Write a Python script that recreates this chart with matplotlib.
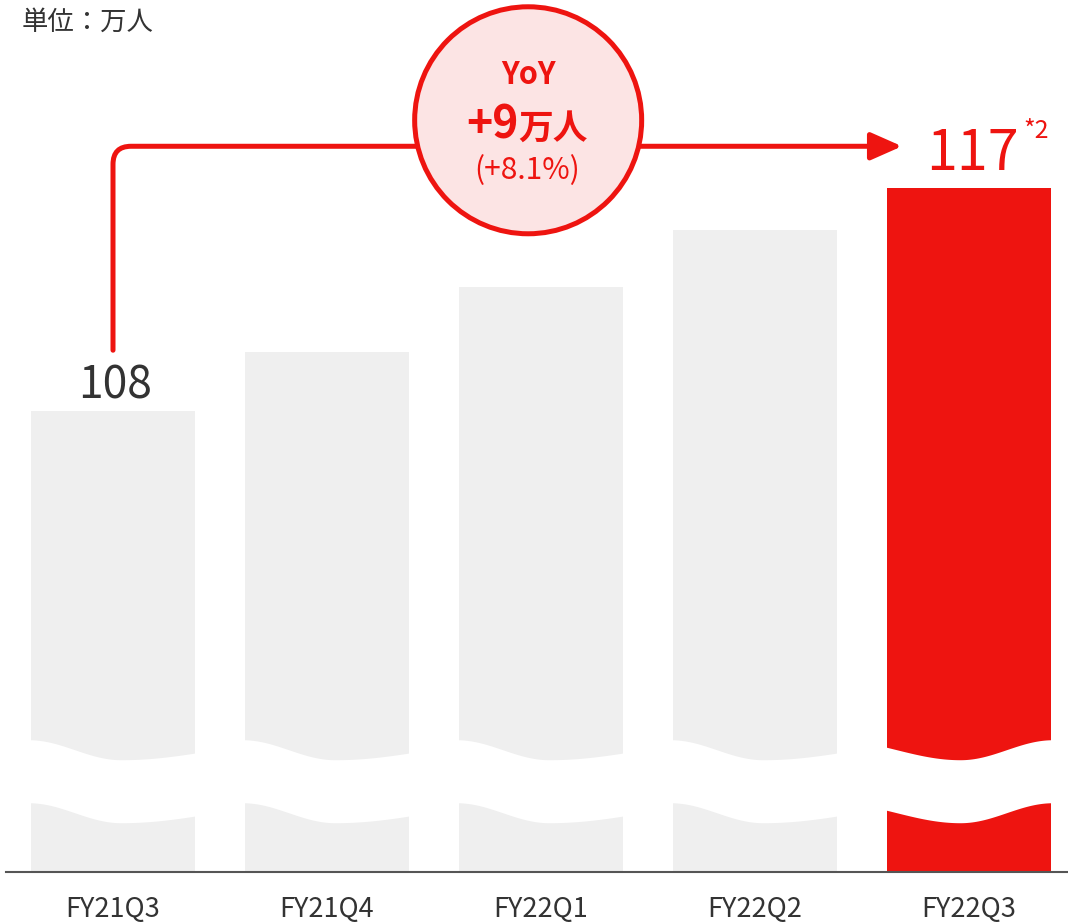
import numpy as np
import matplotlib
matplotlib.use("Agg")
import matplotlib.pyplot as plt
from matplotlib.patches import Ellipse, Polygon

plt.rcParams['font.family'] = ['Noto Sans CJK JP', 'DejaVu Sans']

# data (unit: 万人)
quarters = ['FY21Q3', 'FY21Q4', 'FY22Q1', 'FY22Q2', 'FY22Q3']
users = [108, 110.4, 113.0, 115.3, 117]
yoy_abs = 9
yoy_pct = 8.1

RED = '#EE1410'
GRAY = '#EFEFEF'
PINK = '#FCE4E4'
DARK = '#333333'

fig = plt.figure(figsize=(10.68, 9.24), dpi=100)
ax = fig.add_axes([6 / 1068, 52 / 924, 1062 / 1068, 872 / 924])
ylo, yhi = 89.4, 124.6
ax.set_xlim(-0.5, 4.4626)
ax.set_ylim(ylo, yhi)
px = 872 / (yhi - ylo)  # pixels per data unit (y)
pxx = 214  # pixels per bar slot (x)

x = np.arange(len(quarters))
w = 0.766
colors = [GRAY] * (len(users) - 1) + [RED]
ax.bar(x, np.array(users) - ylo, bottom=ylo, width=w, color=colors, zorder=1)


def wave(t, t_min, h_left, h_right):
    h = np.where(t < t_min, h_left, h_right)
    return np.cos(np.pi * (t - t_min) / h)


# white wavy "axis break" band across each bar
brk_top = users[0] - 339 / px
brk_h = 63 / px
amp = 10 / px
t = np.linspace(0, 1, 80)
for i in x:
    if i == len(users) - 1:
        f = wave(t, 0.45, 0.754, 0.55)
    else:
        f = wave(t, 0.55, 0.55, 1.12)
    xs = i - w / 2 - 0.01 + t * (w + 0.02)
    top = brk_top - amp * f
    bot = top - brk_h
    pts = np.column_stack([np.r_[xs, xs[::-1]], np.r_[top, bot[::-1]]])
    ax.add_patch(Polygon(pts, closed=True, facecolor='white', edgecolor='none', zorder=1.5))

# value labels
ax.text(0.01, users[0] + 13 / px, f'{users[0]:g}', ha='center', va='baseline',
        fontsize=32, color=DARK)
ax.text(4.014, users[-1] + 18 / px, f'{users[-1]:g}', ha='center', va='baseline',
        fontsize=40, color=RED)
ax.annotate('*2', xy=(4.014, users[-1] + 18 / px), xytext=(37, 23),
            textcoords='offset points', fontsize=18, color=RED,
            ha='left', va='baseline')

# YoY connector
ax.annotate('', xy=(3.687, users[-1] + 42 / px), xytext=(0, users[0] + 61 / px),
            arrowprops=dict(arrowstyle='-|>,head_length=0.95,head_width=0.42',
                            connectionstyle='angle,angleA=90,angleB=180,rad=18',
                            color=RED, lw=3.6, shrinkA=0, shrinkB=0,
                            mutation_scale=20),
            zorder=2, annotation_clip=False)

cx, cy = 1.94, users[-1] + 68 / px
ax.add_patch(Ellipse((cx, cy), width=227 / pxx, height=227 / px, facecolor=PINK,
                     edgecolor=RED, lw=3.6, zorder=3, clip_on=False))

ax.annotate('YoY', xy=(cx, cy), xytext=(0, 26), textcoords='offset points',
            ha='center', va='baseline', fontsize=22, fontweight='bold',
            color=RED, zorder=4)
ax.annotate(f'+{yoy_abs}', xy=(cx, cy), xytext=(-7, -13), textcoords='offset points',
            ha='right', va='baseline', fontsize=32, fontweight='bold',
            color=RED, zorder=4)
ax.annotate('万人', xy=(cx, cy), xytext=(-7, -13), textcoords='offset points',
            ha='left', va='baseline', fontsize=25, fontweight='bold',
            color=RED, zorder=4)
ax.annotate(f'(+{yoy_pct}%)', xy=(cx, cy), xytext=(-1, -42), textcoords='offset points',
            ha='center', va='baseline', fontsize=21.5, color=RED, zorder=4)

fig.text(22 / 1068, 1 - 30 / 924, '単位：万人', ha='left', va='baseline',
         fontsize=19, color=DARK)

ax.set_xticks(x, quarters)
ax.tick_params(axis='x', length=0, pad=17, labelsize=19.5, labelcolor=DARK)
ax.set_yticks([])
for s in ['top', 'left', 'right']:
    ax.spines[s].set_visible(False)
ax.spines['bottom'].set_color('#555555')
ax.spines['bottom'].set_linewidth(1.5)

fig.savefig('out.png', dpi=100)
